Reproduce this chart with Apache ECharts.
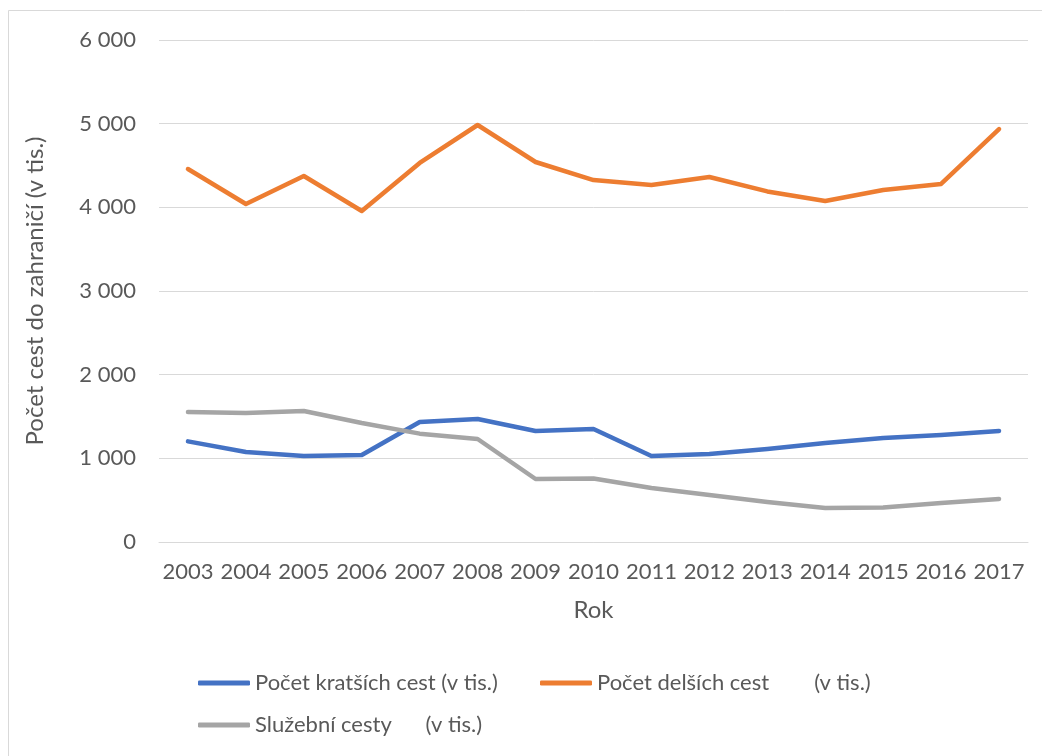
<!DOCTYPE html>
<html>
<head>
<meta charset="utf-8">
<title>Počet cest do zahraničí</title>
<script src="https://cdn.jsdelivr.net/npm/echarts@6/dist/echarts.min.js"></script>
<style>
  html, body { margin: 0; padding: 0; background: #fff; }
  #chart { width: 1042px; height: 756px; }
</style>
</head>
<body>
<div id="chart"></div>
<script>
// roky na ose x
const years = ['2003', '2004', '2005', '2006', '2007', '2008', '2009', '2010', '2011', '2012', '2013', '2014', '2015', '2016', '2017']
// hodnoty (v tis.)
const kratsiCesty = [1203, 1076, 1028, 1040, 1434, 1470, 1327, 1350, 1028, 1052, 1112, 1183, 1243, 1279, 1327]
const delsiCesty = [4458, 4040, 4374, 3956, 4530, 4984, 4542, 4326, 4267, 4362, 4190, 4075, 4207, 4279, 4936]
const sluzebniCesty = [1554, 1542, 1566, 1422, 1295, 1231, 753, 760, 645, 562, 478, 406, 412, 466, 514]
// názvy řad
const seriesNames = ['Počet kratších cest (v tis.)', 'Počet delších cest        (v tis.)', 'Služební cesty      (v tis.)']

const textColor = '#595959'
const gridColor = '#D9D9D9'
const font = 'Lato'

const chart = echarts.init(document.getElementById('chart'), null, { renderer: 'canvas' })

// jedna legenda pro každou položku, ať sedí pozice
function makeLegend(name, left, top) {
  return {
    data: [name],
    left: left,
    top: top,
    icon: 'roundRect',
    itemWidth: 52,
    itemHeight: 5,
    itemGap: 0,
    padding: 0,
    textStyle: { color: textColor, fontSize: 22, fontFamily: font }
  }
}

function makeSeries(name, data, color) {
  return {
    name: name,
    type: 'line',
    data: data,
    showSymbol: false,
    symbol: 'none',
    color: color,
    lineStyle: { width: 4.5, color: color, cap: 'round', join: 'round' }
  }
}

chart.setOption({
  animation: false,
  backgroundColor: '#fff',
  // rámeček kolem grafu
  graphic: [{
    type: 'rect',
    shape: { x: 8.5, y: 10.5, width: 1100, height: 800 },
    style: { fill: 'none', stroke: gridColor, lineWidth: 1 },
    silent: true
  }],
  grid: {
    left: 159,
    right: 14,
    top: 40,
    bottom: 214
  },
  legend: [
    makeLegend(seriesNames[0], 198, 672),
    makeLegend(seriesNames[1], 540, 672),
    makeLegend(seriesNames[2], 198, 714)
  ],
  xAxis: {
    type: 'category',
    data: years,
    boundaryGap: true,
    name: 'Rok',
    nameLocation: 'middle',
    nameGap: 56,
    nameTextStyle: { color: textColor, fontSize: 24, fontFamily: font },
    axisLine: { show: true, lineStyle: { color: gridColor, width: 1 } },
    axisTick: { show: false },
    axisLabel: { color: textColor, fontSize: 22, fontFamily: font, margin: 19, interval: 0 }
  },
  yAxis: {
    type: 'value',
    min: 0,
    max: 6000,
    interval: 1000,
    name: 'Počet cest do zahraničí (v tis.)',
    nameLocation: 'middle',
    nameGap: 112,
    nameTextStyle: { color: textColor, fontSize: 24, fontFamily: font },
    axisLine: { show: false },
    axisTick: { show: false },
    splitLine: { lineStyle: { color: gridColor, width: 1 } },
    axisLabel: {
      color: textColor,
      fontSize: 22,
      fontFamily: font,
      margin: 23,
      formatter: function (v) {
        // mezera jako oddělovač tisíců
        return String(v).replace(/\B(?=(\d{3})+(?!\d))/g, ' ')
      }
    }
  },
  series: [
    makeSeries(seriesNames[0], kratsiCesty, '#4472C4'),
    makeSeries(seriesNames[1], delsiCesty, '#ED7D31'),
    makeSeries(seriesNames[2], sluzebniCesty, '#A5A5A5')
  ]
})
</script>
</body>
</html>
